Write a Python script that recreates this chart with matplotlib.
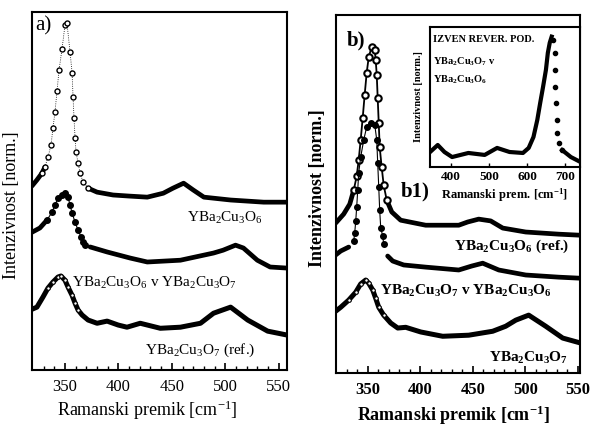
import numpy as np
import matplotlib
matplotlib.use("Agg")
import matplotlib.pyplot as plt

plt.rcParams['font.family'] = ['Liberation Serif', 'DejaVu Serif']
plt.rcParams['mathtext.fontset'] = 'custom'
plt.rcParams['mathtext.rm'] = 'Liberation Serif'
plt.rcParams['mathtext.bf'] = 'Liberation Serif:bold'
plt.rcParams['mathtext.it'] = 'Liberation Serif:italic'

# ---- panel a) ----
a1_x = [319.0, 323.7, 328.4, 331.2, 334.0, 336.9, 338.7, 340.6, 342.5, 344.4, 347.2, 350.0, 351.8,
        354.7, 356.6, 357.5, 358.4, 359.4, 360.3, 362.2, 364.1, 366.9, 371.6, 380.0, 395.0, 410.0,
        427.0, 442.0, 451.0, 461.0, 470.0, 480.0, 505.0, 536.0, 558.0]
a1_y = [5.14, 5.31, 5.50, 5.67, 5.95, 6.28, 6.76, 7.21, 7.79, 8.38, 8.97, 9.64, 9.69,
        8.88, 8.30, 7.63, 7.04, 6.48, 6.09, 5.78, 5.50, 5.25, 5.08, 4.97, 4.89, 4.86,
        4.83, 4.94, 5.08, 5.22, 5.03, 4.83, 4.75, 4.69, 4.69]

a2_x = [319.0, 326.5, 333.1, 337.8, 340.6, 343.4, 347.2, 350.0, 352.8, 354.7, 356.6, 359.4, 362.2,
        365.0, 366.9, 368.8, 373.5, 389.4, 411.0, 427.0, 458.0, 489.0, 498.0, 509.6, 517.0, 530.0,
        542.0, 558.0]
a2_y = [3.85, 3.97, 4.19, 4.41, 4.61, 4.80, 4.89, 4.94, 4.83, 4.61, 4.39, 4.13, 3.91,
        3.72, 3.58, 3.49, 3.44, 3.30, 3.13, 3.02, 3.07, 3.27, 3.35, 3.49, 3.41, 3.07,
        2.88, 2.85]

a3_x = [319.0, 323.7, 329.3, 334.0, 338.7, 343.4, 346.2, 350.0, 352.8, 356.6, 359.4, 362.2, 366.0,
        371.6, 380.0, 389.4, 399.8, 408.0, 420.4, 439.2, 458.0, 476.8, 489.0, 505.0, 521.0, 539.7,
        558.0]
a3_y = [1.70, 1.76, 2.04, 2.29, 2.46, 2.60, 2.63, 2.51, 2.32, 2.09, 1.87, 1.68, 1.54,
        1.40, 1.31, 1.37, 1.26, 1.20, 1.31, 1.17, 1.20, 1.31, 1.59, 1.76, 1.40, 1.09,
        0.98]

# ---- panel b) ----
b1_x = [319.5, 327.1, 332.9, 336.7, 339.5, 341.4, 343.3, 345.2, 347.1, 349.0, 351.0, 353.8, 356.7,
        357.6, 358.6, 359.5, 360.5, 361.4, 363.3, 365.2, 368.1, 372.9, 381.4, 405.2, 436.7, 445.2,
        455.7, 467.1, 478.6, 500.5, 531.9, 552.9]
b1_y = [4.19, 4.44, 4.72, 5.11, 5.50, 5.95, 6.51, 7.12, 7.77, 8.38, 8.83, 9.11, 9.02,
        8.74, 8.32, 7.68, 6.98, 6.31, 5.75, 5.25, 4.83, 4.50, 4.27, 4.13, 4.13, 4.22,
        4.30, 4.25, 4.05, 3.94, 3.88, 3.85]

b2_x = [319.5, 324.3, 331.9, 336.7, 337.6, 338.6, 339.5, 340.5, 341.4, 343.3, 346.2, 349.0, 352.9,
        356.7, 358.6, 359.5, 360.5, 361.4, 362.4, 364.3, 365.2, 369.0, 373.8, 384.3, 405.2, 436.7,
        449.0, 459.5, 474.8, 500.5, 531.9, 552.9]
b2_y = [3.30, 3.41, 3.52, 3.69, 3.91, 4.25, 4.64, 5.11, 5.59, 6.03, 6.51, 6.87, 6.98,
        6.93, 6.51, 5.87, 5.20, 4.55, 4.05, 3.83, 3.60, 3.27, 3.13, 3.02, 2.96, 2.88,
        2.99, 3.07, 2.88, 2.74, 2.68, 2.65]

b3_x = [319.5, 324.3, 331.9, 338.6, 343.3, 348.1, 351.0, 354.8, 357.6, 360.5, 365.2, 371.9, 378.6,
        386.2, 400.5, 421.4, 446.2, 469.0, 481.4, 491.0, 503.3, 519.5, 535.7, 552.9]
b3_y = [1.73, 1.84, 2.04, 2.26, 2.49, 2.60, 2.51, 2.32, 2.09, 1.84, 1.62, 1.40, 1.26,
        1.28, 1.15, 1.03, 1.06, 1.17, 1.31, 1.48, 1.62, 1.31, 0.98, 0.84]

# ---- inset b1) ----
ins_x = [344.6, 364.7, 382.4, 402.5, 445.3, 488.2, 520.9, 553.7, 588.9, 604.0, 616.6, 626.7, 634.3,
         641.8, 649.4, 654.4, 659.4, 664.5, 667.0, 672.0, 673.0, 674.5, 677.0, 678.0, 679.6, 684.6,
         692.0, 715.0, 740.0]
ins_y = [1.07, 1.57, 1.07, 0.71, 1.00, 0.86, 1.36, 1.07, 1.00, 1.36, 2.14, 3.36, 4.57,
         5.71, 6.93, 8.14, 8.86, 9.30, 9.07, 8.14, 6.93, 5.71, 4.57, 3.36, 2.43, 1.71,
         1.21, 0.71, 0.36]

ticks_main = [350, 400, 450, 500, 550]
ticks_inset = [400, 500, 600, 700]


def spectrum(ax, x, y, lo, hi, kind):
    x = np.asarray(x)
    y = np.asarray(y)
    core = (x > lo) & (x < hi)
    if kind == 'open':        # open circles, no line through the peak
        ax.plot(x, np.where(core, np.nan, y), color='k', lw=3.4, solid_capstyle='round')
        m = (x > lo - 8) & (x < hi + 8)
        ax.plot(x[m], y[m], ls=':', lw=0.6, color='k', marker='o', ms=3.6,
                mfc='white', mec='k', mew=1.0)
    elif kind == 'dots':      # filled dots
        ax.plot(x, np.where(core, np.nan, y), color='k', lw=3.4, solid_capstyle='round')
        m = (x > lo - 3) & (x < hi + 3)
        ax.plot(x[m], y[m], ls='-', lw=0.8, color='k', marker='o', ms=4.0, mfc='k', mec='k')
    elif kind == 'ring':      # open circles with thin connecting line
        ax.plot(x, np.where(core, np.nan, y), color='k', lw=3.4, solid_capstyle='round')
        m = (x > lo - 3) & (x < hi + 3)
        ax.plot(x[m], y[m], ls='-', lw=1.3, color='k', marker='o', ms=4.6,
                mfc='white', mec='k', mew=1.5)
    else:                     # thick line with chain of open circles on the peak
        ax.plot(x, y, color='k', lw=3.6, solid_capstyle='round')
        m = core
        ax.plot(x[m], y[m], ls='none', marker='o', ms=2.6, mfc='white', mec='k', mew=0.8)


fig = plt.figure(figsize=(5.91, 4.26), dpi=100)
axa = fig.add_axes([0.054, 0.131, 0.432, 0.841])
axb = fig.add_axes([0.568, 0.124, 0.414, 0.841])

spectrum(axa, a1_x, a1_y, 332, 370, 'open')
spectrum(axa, a2_x, a2_y, 336, 369, 'dots')
spectrum(axa, a3_x, a3_y, 331, 366, 'chain')

spectrum(axb, b1_x, b1_y, 337, 368, 'ring')
spectrum(axb, b2_x, b2_y, 336, 366, 'dots')
spectrum(axb, b3_x, b3_y, 331, 368, 'chain')

for ax, lim, bold in [(axa, (319, 558), False), (axb, (319.5, 552.5), True)]:
    w = 'bold' if bold else 'normal'
    ax.set_xlim(*lim)
    ax.set_ylim(0, 10)
    ax.set_yticks([])
    ax.set_xticks(ticks_main)
    ax.set_xticks(np.arange(330, 560, 10), minor=True)
    ax.tick_params(axis='x', which='major', direction='in', length=5, width=1.2,
                   labelsize=12, pad=6)
    ax.tick_params(axis='x', which='minor', direction='in', length=3, width=1.0)
    for lab in ax.get_xticklabels():
        lab.set_fontweight(w)
    for s in ax.spines.values():
        s.set_linewidth(1.5)

axa.set_xlabel('Ramanski premik [cm$^{-1}$]', fontsize=13)
axa.xaxis.set_label_coords(0.45, -0.078)
axa.set_ylabel('Intenzivnost [norm.]', fontsize=13)
axa.yaxis.set_label_coords(-0.045, 0.46)

axb.set_xlabel(r'Ramanski premik [cm$^{\mathbf{-1}}$]', fontsize=13, fontweight='bold')
axb.xaxis.set_label_coords(0.48, -0.085)
axb.set_ylabel('Intenzivnost [norm.]', fontsize=13, fontweight='bold')
axb.yaxis.set_label_coords(-0.04, 0.517)

# labels panel a
axa.text(0.012, 0.962, 'a)', transform=axa.transAxes, fontsize=15, va='center')
axa.text(0.902, 0.425, 'YBa$_2$Cu$_3$O$_6$', transform=axa.transAxes, fontsize=11,
         ha='right', va='center')
axa.text(0.157, 0.243, 'YBa$_2$Cu$_3$O$_6$ v YBa$_2$Cu$_3$O$_7$', transform=axa.transAxes,
         fontsize=11, ha='left', va='center')
axa.text(0.875, 0.056, 'YBa$_2$Cu$_3$O$_7$ (ref.)', transform=axa.transAxes, fontsize=11,
         ha='right', va='center')

# labels panel b
axb.text(0.045, 0.930, 'b)', transform=axb.transAxes, fontsize=15, fontweight='bold', va='center')
axb.text(0.955, 0.355, r'YBa$_\mathbf{2}$Cu$_\mathbf{3}$O$_\mathbf{6}$ (ref.)',
         transform=axb.transAxes, fontsize=11, fontweight='bold', ha='right', va='center')
axb.text(0.18, 0.229,
         r'YBa$_\mathbf{2}$Cu$_\mathbf{3}$O$_\mathbf{7}$ v YBa$_\mathbf{2}$Cu$_\mathbf{3}$O$_\mathbf{6}$',
         transform=axb.transAxes, fontsize=11, fontweight='bold', ha='left', va='center')
axb.text(0.95, 0.042, r'YBa$_\mathbf{2}$Cu$_\mathbf{3}$O$_\mathbf{7}$',
         transform=axb.transAxes, fontsize=11, fontweight='bold', ha='right', va='center')
axb.text(0.265, 0.506, 'b1)', transform=axb.transAxes, fontsize=15, fontweight='bold',
         va='center')
axb.text(0.43, 0.497, r'Ramanski prem. [cm$^{\mathbf{-1}}$]', transform=axb.transAxes,
         fontsize=9, fontweight='bold', va='center', clip_on=False)

# inset
axi = fig.add_axes([0.728, 0.608, 0.254, 0.329])
axi.set_facecolor('white')
xi = np.asarray(ins_x)
yi = np.asarray(ins_y)
drop = xi > 665
axi.plot(xi, np.where((xi > 666) & (xi < 690), np.nan, yi), color='k', lw=3.0)
axi.plot(xi[drop & (xi < 694)], yi[drop & (xi < 694)], ls='none', marker='o', ms=3.0,
         mfc='k', mec='k')
axi.set_xlim(345, 740)
axi.set_ylim(0, 10)
axi.set_yticks([])
axi.set_xticks(ticks_inset)
axi.tick_params(axis='x', direction='in', length=3, width=1.0, labelsize=9.5, pad=3)
for lab in axi.get_xticklabels():
    lab.set_fontweight('bold')
for s in axi.spines.values():
    s.set_linewidth(1.5)
axi.set_ylabel('Intenzivnost [norm.]', fontsize=7.5, fontweight='bold')
axi.yaxis.set_label_coords(-0.05, 0.5)
axi.text(0.02, 0.907, 'IZVEN REVER. POD.', transform=axi.transAxes, fontsize=7.5,
         fontweight='bold', va='center')
axi.text(0.02, 0.75, r'YBa$_\mathbf{2}$Cu$_\mathbf{3}$O$_\mathbf{7}$ v', transform=axi.transAxes,
         fontsize=7.5, fontweight='bold', va='center')
axi.text(0.02, 0.62, r'YBa$_\mathbf{2}$Cu$_\mathbf{3}$O$_\mathbf{6}$', transform=axi.transAxes,
         fontsize=7.5, fontweight='bold', va='center')

fig.savefig('out.png', dpi=100)
